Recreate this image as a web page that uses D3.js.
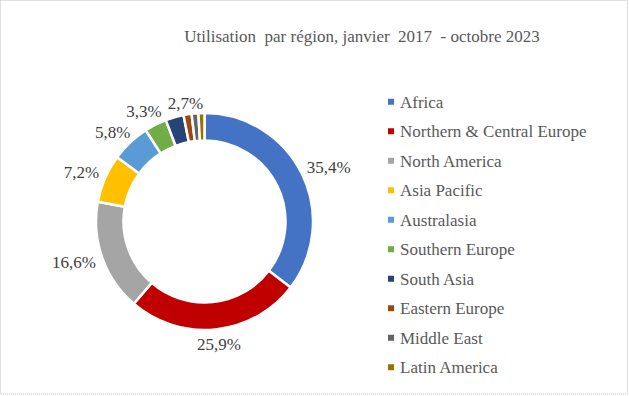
<!DOCTYPE html>
<html>
<head>
<meta charset="utf-8">
<script src="https://cdn.jsdelivr.net/npm/d3@7"></script>
<style>
  html, body { margin: 0; padding: 0; background: #fff; }
  svg { display: block; }
  text { font-family: 'Liberation Serif', 'Tinos', 'Times New Roman', 'DejaVu Serif', serif; }
</style>
</head>
<body>
<svg id="chart"></svg>
<script>
// Chart data
var regions = ['Africa', 'Northern & Central Europe', 'North America', 'Asia Pacific',
  'Australasia', 'Southern Europe', 'South Asia', 'Eastern Europe', 'Middle East', 'Latin America']
var shares = [35.4, 25.9, 16.6, 7.2, 5.8, 3.3, 2.7, 1.2, 1.0, 0.9]
var shownLabels = ['35,4%', '25,9%', '16,6%', '7,2%', '5,8%', '3,3%', '2,7%', '', '', '']
var colors = ['#4472C4', '#C00000', '#A5A5A5', '#FFC000', '#5B9BD5',
  '#70AD47', '#264478', '#9E480E', '#636363', '#997300']
var title = 'Utilisation  par région, janvier  2017  - octobre 2023'

// Layout
var width = 629
var height = 396
var cx = 204.5
var cy = 221.5
var outerR = 108.5
var innerR = 81
var labelGap = 8
var fontSize = 17

var svg = d3.select('#chart').attr('width', width).attr('height', height)

// dotted frame round the chart area
svg.append('rect')
  .attr('x', 0.5).attr('y', 0.5)
  .attr('width', 627).attr('height', 393.5)
  .attr('fill', '#fff')
  .attr('stroke', '#bfbfbf')
  .attr('stroke-dasharray', '1,1')

svg.append('text')
  .attr('x', 362).attr('y', 42)
  .attr('text-anchor', 'middle')
  .attr('font-size', fontSize)
  .attr('fill', '#595959')
  .style('white-space', 'pre')
  .text(title)

var pie = d3.pie().sort(null).value(function (d) { return d })
var arcs = pie(shares)
var arc = d3.arc().innerRadius(innerR).outerRadius(outerR)

var g = svg.append('g').attr('transform', 'translate(' + cx + ',' + cy + ')')

g.selectAll('path')
  .data(arcs)
  .enter().append('path')
  .attr('d', arc)
  .attr('fill', function (d, i) { return colors[i] })
  .attr('stroke', '#fff')
  .attr('stroke-width', 2.5)

// labels sit just outside the ring, the box pushed away along the mid angle
var boxes = []
g.selectAll('text.lbl')
  .data(arcs)
  .enter().append('text')
  .attr('class', 'lbl')
  .attr('text-anchor', 'middle')
  .attr('dy', '0.35em')
  .attr('font-size', fontSize)
  .attr('fill', '#404040')
  .text(function (d, i) { return shownLabels[i] })
  .each(function (d) {
    var a = (d.startAngle + d.endAngle) / 2
    var r = outerR + labelGap
    var hw = this.getComputedTextLength() / 2
    var hh = fontSize * 0.4
    var x = Math.sin(a) * (r + hw)
    var y = -Math.cos(a) * (r + hh)
    // nudge right if it runs into the label before it
    var prev = boxes[boxes.length - 1]
    if (hw > 0 && prev && Math.abs(prev.y - y) < 2 * hh && x - hw < prev.x + prev.hw + 4) {
      x = prev.x + prev.hw + 6 + hw
    }
    if (hw > 0) boxes.push({ x: x, y: y, hw: hw })
    d3.select(this).attr('x', x).attr('y', y)
  })

// legend
var legendY = d3.scaleBand().domain(regions).range([87, 382])
var legend = svg.selectAll('g.legend')
  .data(regions)
  .enter().append('g')
  .attr('class', 'legend')
  .attr('transform', function (d) {
    return 'translate(388,' + (legendY(d) + legendY.bandwidth() / 2) + ')'
  })

legend.append('rect')
  .attr('x', 0).attr('y', -3)
  .attr('width', 6).attr('height', 6)
  .attr('fill', function (d, i) { return colors[i] })

legend.append('text')
  .attr('x', 12).attr('y', 0)
  .attr('dy', '0.35em')
  .attr('font-size', fontSize)
  .attr('fill', '#595959')
  .text(function (d) { return d })
</script>
</body>
</html>
